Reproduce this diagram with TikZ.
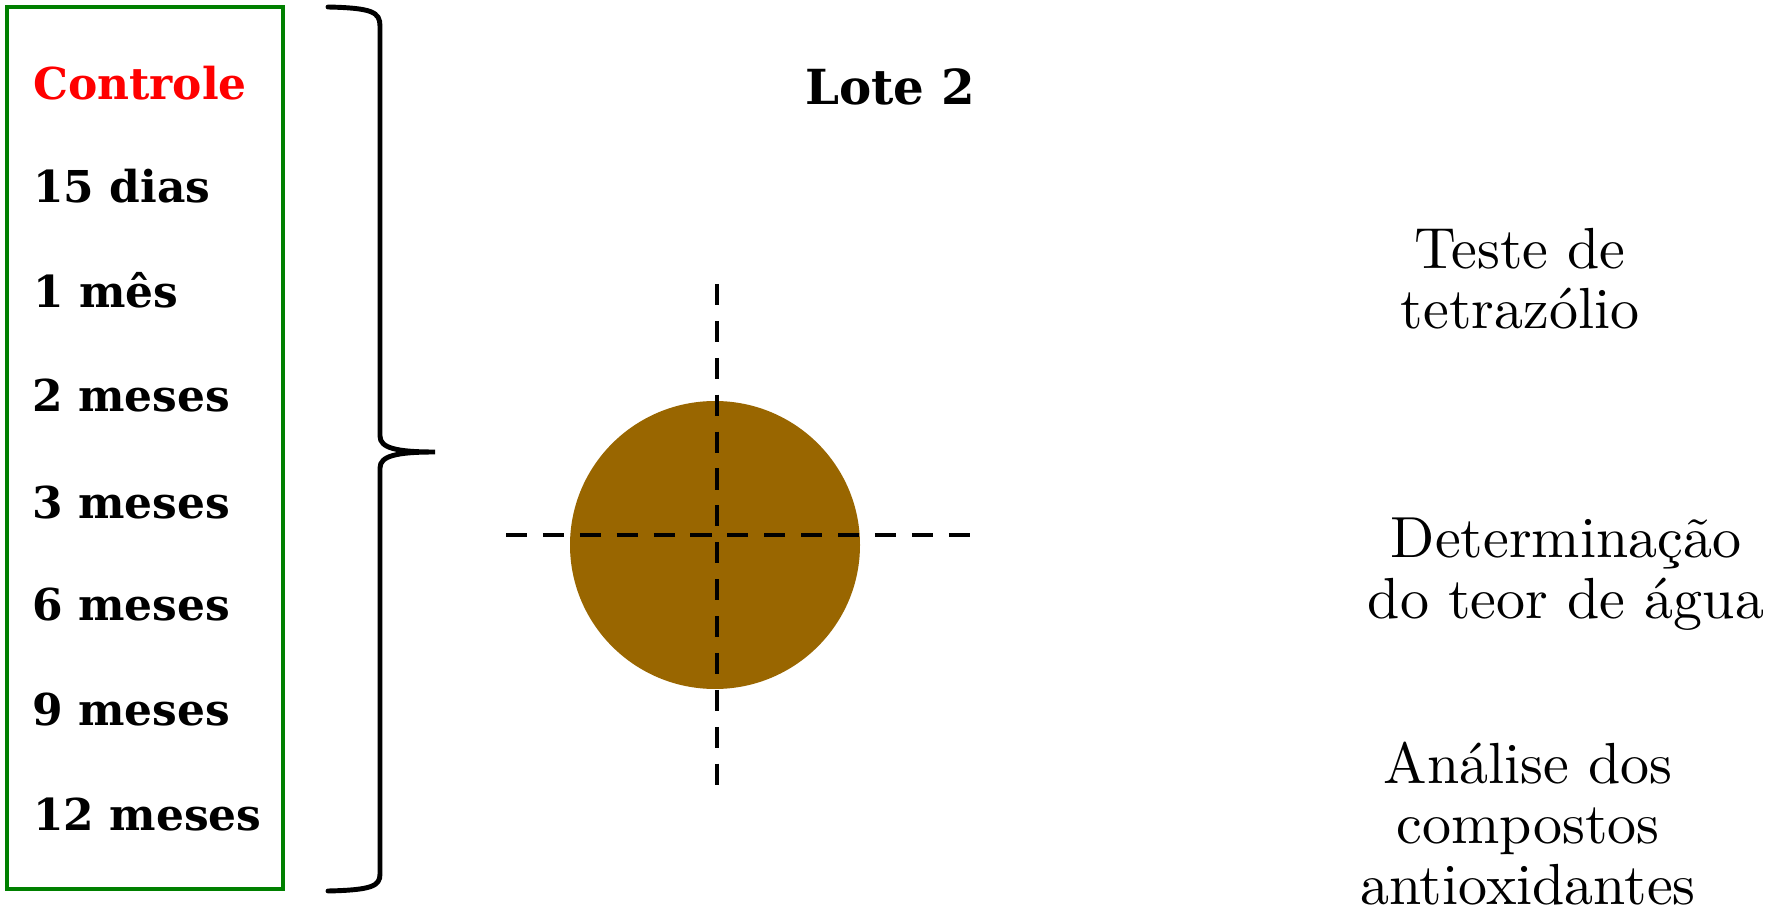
\documentclass[tikz,border=0pt]{standalone}
\usepackage{fontspec}
\newfontfamily\slabfont{DejaVu Serif}
\newfontfamily\tenfont{lmroman10-regular.otf}
\definecolor{seedbrown}{RGB}{153, 102, 0}
\definecolor{boxgreen}{RGB}{0, 128, 0}
\usepackage{tikz}
\usetikzlibrary{positioning, calc}

\begin{document}
\begin{tikzpicture}[
  x=0.02cm, y=-0.02cm,
  period/.style={anchor=base west, inner sep=0pt, font=\slabfont\bfseries\fontsize{25}{28}\selectfont},
  heading/.style={anchor=base west, inner sep=0pt, font=\slabfont\bfseries\fontsize{27.5}{30}\selectfont},
  analysis/.style={anchor=base, inner sep=0pt, align=center, font=\tenfont\fontsize{33}{34.4}\selectfont},
  cut/.style={line width=2.5pt, dash pattern=on 12pt off 9pt}
]
  \useasboundingbox (0,0) rectangle (1783,912);

  % storage periods
  \draw[boxgreen, line width=2.3pt] (7,7) rectangle (283,889);
  \node[period, text=red] (ctrl) at (33,100) {Controle};
  \node[period] (d15) at (33,203) {15 dias};
  \node[period] (m1)  at (33,308) {1 mês};
  \node[period] (m2)  at (32,412) {2 meses};
  \node[period] (m3)  at (32,518) {3 meses};
  \node[period] (m6)  at (32,620) {6 meses};
  \node[period] (m9)  at (32,725) {9 meses};
  \node[period] (m12) at (33,830) {12 meses};

  % brace
  \draw[line width=2.8pt, line cap=round]
    (328,7) .. controls (372,8) and (380,12) .. (380,26) -- (380,436)
    .. controls (380,448) and (396,452) .. (435,452)
    .. controls (396,452) and (380,456) .. (380,468) -- (380,874)
    .. controls (380,886) and (372,890) .. (328,891);

  \node[heading] (lote) at (805,105) {Lote 2};

  % seed
  \fill[seedbrown] (715,545) ellipse [x radius=145, y radius=144];
  \draw[cut] (717,284) -- (717,790);
  \draw[cut] (506,535) -- (976,535);

  % analyses
  \node[analysis] (tz)  at (1520,329) {Teste de\\tetrazólio};
  \node[analysis] (ag)  at (1566,618) {Determinação\\do teor de água};
  \node[analysis] (ant) at (1528,904) {Análise dos\\compostos\\antioxidantes};
\end{tikzpicture}
\end{document}
